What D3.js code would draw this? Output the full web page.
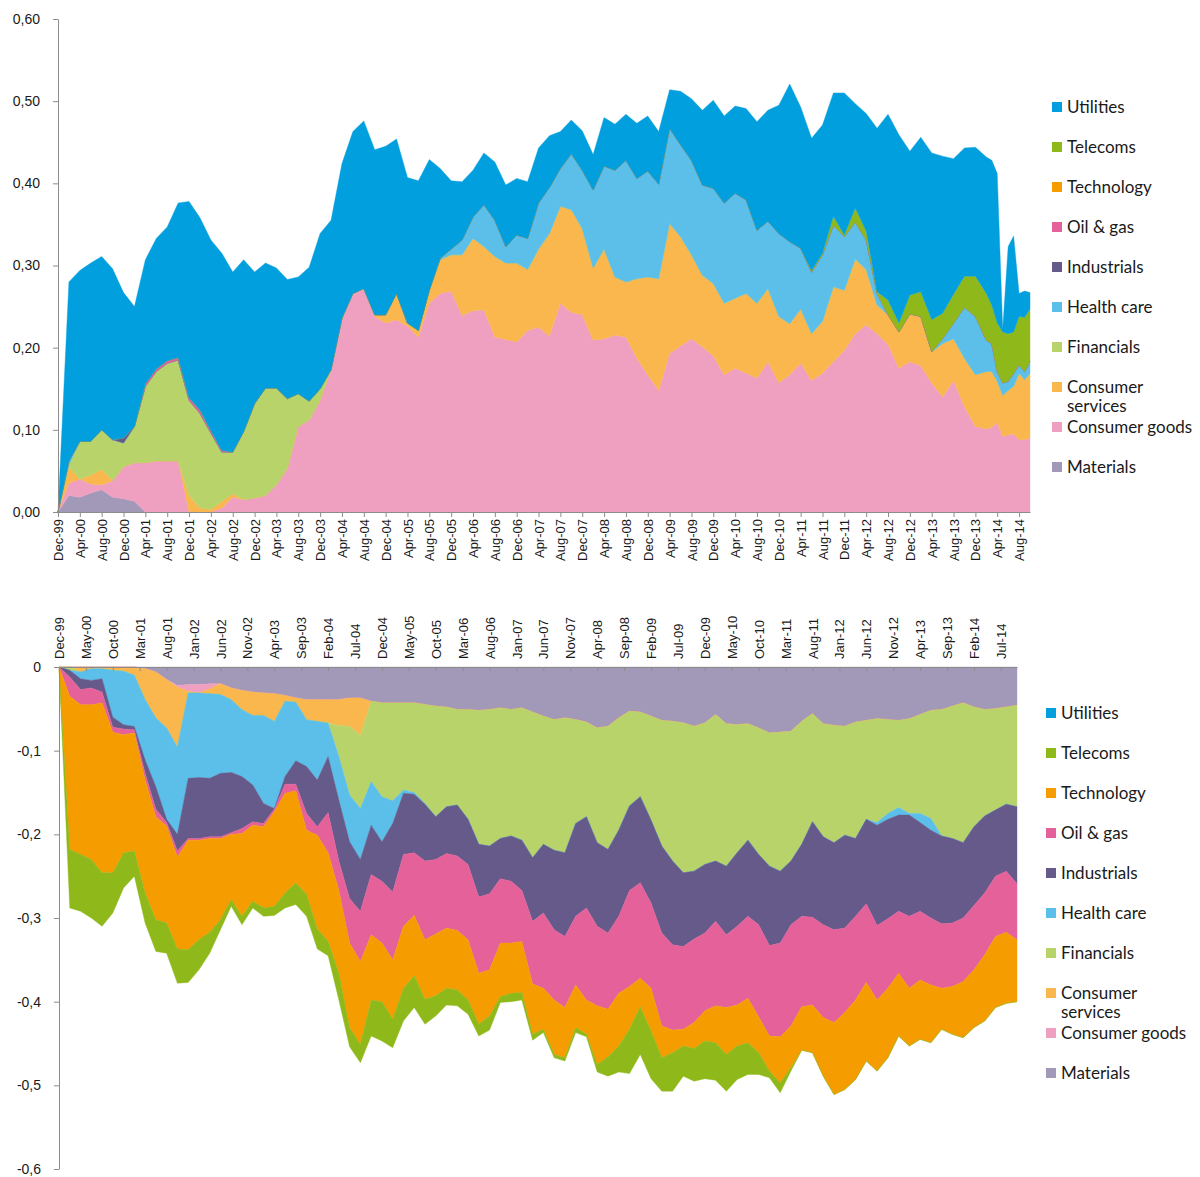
<!DOCTYPE html>
<html>
<head>
<meta charset="utf-8">
<script src="https://cdnjs.cloudflare.com/ajax/libs/d3/7.8.5/d3.min.js"></script>
<style>
  body { margin: 0; background: #fff; }
  svg { display: block; font-family: Lato, "Open Sans", sans-serif; }
</style>
</head>
<body>
<svg id="chart" width="1200" height="1177"></svg>
<script>
// month index counted from Dec-99
const topMonths = [0,2,4,6,8,10,12,14,16,18, 20,22,24,26,28,30,32,34,36,38,
  40,42,44,46,48,50,52,54,56,58, 60,62,64,66,68,70,72,74,76,78,
  80,82,84,86,88,90,92,94,96,98, 100,102,104,106,108,110,112,114,116,118,
  120,122,124,126,128,130,132,134,136,138, 140,142,144,146,148,150,152,154,156,158,
  160,162,164,166,168,170, 171,172,173,174,175,176,177,178];

const bottomMonths = [0,2,4,6,8,10,12,14,16,18, 20,22,24,26,28,30,32,34,36,38,
  40,42,44,46,48,50,52,54,56,58, 60,62,64,66,68,70,72,74,76,78,
  80,82,84,86,88,90,92,94,96,98, 100,102,104,106,108,110,112,114,116,118,
  120,122,124,126,128,130,132,134,136,138, 140,142,144,146,148,150,152,154,156,158,
  160,162,164,166,168,170,172,174,176,178];

const sectors = ["Utilities", "Telecoms", "Technology", "Oil & gas", "Industrials",
  "Health care", "Financials", "Consumer services", "Consumer goods", "Materials"];
const sectorColors = ["#029fdf", "#8fb91a", "#f59c00", "#e4619a", "#655a8a",
  "#5bbfea", "#b9d36b", "#f9b74e", "#efa0c0", "#a298b8"];

const yTicksTop = [0, 0.1, 0.2, 0.3, 0.4, 0.5, 0.6];
const yTicksBottom = [0, -0.1, -0.2, -0.3, -0.4, -0.5, -0.6];

// ---- upper panel (long side) ----
const longMaterials = [
  0, .020, .018, .023, .027, .018, .016, .013, 0, 0,
  0, 0, 0, 0, 0, 0, 0, 0, 0, 0,
  0, 0, 0, 0, 0, 0, 0, 0, 0, 0,
  0, 0, 0, 0, 0, 0, 0, 0, 0, 0,
  0, 0, 0, 0, 0, 0, 0, 0, 0, 0,
  0, 0, 0, 0, 0, 0, 0, 0, 0, 0,
  0, 0, 0, 0, 0, 0, 0, 0, 0, 0,
  0, 0, 0, 0, 0, 0, 0, 0, 0, 0,
  0, 0, 0, 0, 0, 0,
  0, 0, 0, 0, 0, 0, 0, 0];
const longConsumerGoods = [
  0, .015, .022, .011, .006, .020, .039, .047, .060, .062,
  .062, .062, 0, 0, 0, .005, .018, .015, .017, .020,
  .033, .053, .104, .112, .136, .173, .236, .266, .272, .238,
  .230, .234, .226, .213, .254, .266, .269, .239, .245, .246,
  .213, .210, .207, .221, .225, .214, .254, .243, .240, .209,
  .211, .215, .213, .187, .167, .148, .193, .202, .211, .201,
  .190, .167, .175, .169, .163, .183, .157, .167, .181, .160,
  .169, .183, .197, .217, .228, .217, .204, .175, .183, .178,
  .157, .140, .160, .128, .104, .101,
  .103, .109, .092, .094, .095, .088, .088, .090];
const longConsumerServices = [
  0, .020, 0, .011, .019, 0, 0, 0, 0, 0,
  0, 0, .020, .005, .003, .008, .004, 0, 0, 0,
  0, 0, 0, 0, 0, 0, 0, 0, 0, .002,
  .010, .032, .004, .008, .016, .041, .044, .074, .088, .077,
  .098, .093, .096, .074, .095, .125, .118, .125, .105, .088,
  .109, .071, .067, .097, .119, .136, .158, .133, .102, .087,
  .088, .087, .085, .097, .091, .089, .081, .062, .066, .057,
  .063, .091, .073, .091, .067, .035, .036, .044, .058, .060,
  .038, .065, .051, .059, .063, .070,
  .068, .050, .050, .054, .058, .081, .073, .079];
const longFinancials = [
  0, .002, .046, .041, .048, .050, .029, .044, .093, .109,
  .119, .123, .116, .115, .093, .060, .051, .083, .115, .131,
  .118, .085, .040, .023, .014, 0, 0, 0, 0, 0,
  0, 0, 0, 0, 0, 0, 0, 0, 0, 0,
  0, 0, 0, 0, 0, 0, 0, 0, 0, 0,
  0, 0, 0, 0, 0, 0, 0, 0, 0, 0,
  0, 0, 0, 0, 0, 0, 0, 0, 0, 0,
  0, 0, 0, 0, 0, 0, 0, 0, 0, 0,
  0, 0, 0, 0, 0, 0,
  0, 0, 0, 0, 0, 0, 0, 0];
const longHealthCare = [
  0, .005, 0, 0, 0, 0, 0, 0, 0, 0,
  0, 0, 0, 0, 0, 0, 0, 0, 0, 0,
  0, 0, 0, 0, 0, 0, 0, 0, 0, 0,
  0, 0, 0, 0, 0, .002, .007, .018, .026, .051,
  .044, .020, .034, .038, .056, .056, .046, .068, .071, .095,
  .101, .130, .148, .122, .129, .115, .116, .112, .115, .110,
  .116, .122, .128, .114, .089, .082, .101, .100, .074, .075,
  .081, .075, .065, .045, .036, .014, 0, 0, 0, 0,
  0, .006, .019, .062, .071, .038,
  .034, .012, .015, .011, .016, .010, .010, .014];
const longIndustrials = [
  0, 0, 0, 0, 0, 0, .006, 0, 0, 0,
  0, 0, 0, 0, 0, 0, 0, 0, 0, 0,
  0, 0, 0, 0, 0, 0, 0, 0, 0, 0,
  0, 0, 0, 0, 0, 0, 0, 0, 0, 0,
  0, 0, 0, 0, 0, 0, 0, 0, 0, 0,
  0, 0, 0, 0, 0, 0, 0, 0, 0, 0,
  0, 0, 0, 0, 0, 0, 0, 0, 0, 0,
  0, 0, 0, 0, 0, 0, 0, 0, 0, 0,
  0, 0, 0, 0, 0, 0,
  0, 0, 0, 0, 0, 0, 0, 0];
const longOilGas = [
  0, 0, 0, 0, 0, 0, 0, 0, .003, .003,
  .003, .003, .003, .004, .003, .002, 0, 0, 0, 0,
  0, 0, 0, 0, 0, 0, 0, 0, 0, 0,
  0, 0, 0, 0, 0, 0, 0, 0, 0, 0,
  0, 0, 0, 0, 0, 0, 0, 0, 0, 0,
  0, 0, 0, 0, 0, 0, 0, 0, 0, 0,
  0, 0, 0, 0, 0, 0, 0, 0, 0, 0,
  0, 0, 0, 0, 0, 0, 0, 0, 0, 0,
  0, 0, 0, 0, 0, 0,
  0, 0, 0, 0, 0, 0, 0, 0];
const longTelecoms = [
  0, 0, 0, 0, 0, 0, 0, 0, 0, 0,
  0, 0, 0, 0, 0, 0, 0, 0, 0, 0,
  0, 0, 0, 0, 0, 0, 0, 0, 0, 0,
  0, 0, 0, 0, 0, 0, 0, 0, 0, 0,
  0, 0, 0, 0, 0, 0, 0, 0, 0, 0,
  0, 0, 0, 0, 0, 0, 0, 0, 0, 0,
  0, 0, 0, 0, 0, 0, 0, 0, 0, .002,
  .002, .011, .002, .017, .011, .002, .018, .011, .023, .030,
  .039, .031, .035, .038, .049, .057,
  .047, .059, .062, .058, .050, .059, .066, .064];
const longUtilities = [
  0, .218, .208, .217, .211, .208, .177, .146, .151, .159,
  .163, .188, .239, .234, .232, .240, .219, .209, .160, .152,
  .146, .145, .142, .163, .189, .182, .188, .197, .204, .201,
  .205, .188, .177, .182, .159, .109, .083, .071, .057, .063,
  .071, .075, .069, .069, .067, .063, .045, .041, .048, .043,
  .059, .056, .056, .067, .067, .064, .047, .065, .075, .091,
  .107, .106, .106, .111, .132, .135, .156, .192, .172, .161,
  .156, .150, .173, .127, .143, .199, .226, .229, .175, .188,
  .203, .191, .165, .156, .157, .166,
  .176, .182, .003, .106, .117, .028, .032, .020];

// ---- lower panel (short side, magnitudes below zero) ----
const shortMaterials = [
  0, 0, 0, 0, 0, 0, 0, 0, .002, .006,
  .015, .022, .021, .021, .020, .020, .025, .028, .030, .031,
  .032, .034, .037, .039, .039, .039, .039, .037, .037, .041,
  .043, .043, .043, .043, .045, .047, .048, .051, .051, .052,
  .051, .049, .051, .049, .054, .059, .063, .061, .063, .066,
  .073, .071, .061, .053, .054, .059, .064, .065, .067, .071,
  .067, .057, .068, .069, .068, .073, .079, .078, .077, .065,
  .056, .068, .070, .071, .066, .064, .062, .063, .064, .062,
  .057, .052, .051, .047, .043, .048, .051, .050, .048, .046];
const shortConsumerGoods = [
  0, 0, 0, 0, 0, 0, 0, 0, 0, 0,
  0, .002, .008, .010, .006, 0, 0, 0, 0, 0,
  0, 0, 0, 0, 0, 0, 0, 0, 0, 0,
  0, 0, 0, 0, 0, 0, 0, 0, 0, 0,
  0, 0, 0, 0, 0, 0, 0, 0, 0, 0,
  0, 0, 0, 0, 0, 0, 0, 0, 0, 0,
  0, 0, 0, 0, 0, 0, 0, 0, 0, 0,
  0, 0, 0, 0, 0, 0, 0, 0, 0, 0,
  0, 0, 0, 0, 0, 0, 0, 0, 0, 0];
const shortConsumerServices = [
  0, 0, .006, .002, .002, .004, .005, .010, .037, .055,
  .058, .072, .002, 0, .006, .013, .014, .023, .028, .027,
  .033, .007, .005, .024, .026, .028, .031, .034, .045, 0,
  0, 0, 0, 0, 0, 0, 0, 0, 0, 0,
  0, 0, 0, 0, 0, 0, 0, 0, 0, 0,
  0, 0, 0, 0, 0, 0, 0, 0, 0, 0,
  0, 0, 0, 0, 0, 0, 0, 0, 0, 0,
  0, 0, 0, 0, 0, 0, 0, 0, 0, 0,
  0, 0, 0, 0, 0, 0, 0, 0, 0, 0];
const shortFinancials = [
  0, .004, 0, 0, 0, 0, 0, 0, 0, 0,
  0, 0, 0, 0, 0, 0, 0, 0, 0, 0,
  0, 0, 0, 0, 0, 0, .037, .082, .087, .096,
  .112, .117, .104, .107, .118, .132, .119, .114, .131, .160,
  .163, .156, .151, .158, .174, .153, .156, .161, .124, .113,
  .137, .147, .134, .113, .101, .124, .150, .167, .179, .173,
  .169, .175, .170, .153, .139, .151, .159, .166, .155, .147,
  .129, .135, .140, .130, .139, .118, .124, .112, .104, .113,
  .118, .129, .151, .158, .167, .143, .127, .121, .116, .121];
const shortHealthCare = [
  0, 0, .008, .014, .012, .056, .064, .061, .072, .082,
  .109, .104, .102, .101, .101, .094, .087, .080, .083, .105,
  .104, .090, .070, .056, .070, .040, .052, .056, .061, .052,
  .054, .027, .004, .002, .001, 0, 0, 0, 0, 0,
  0, 0, 0, 0, 0, 0, 0, 0, 0, 0,
  0, 0, 0, 0, 0, 0, 0, 0, 0, 0,
  0, 0, 0, 0, 0, 0, 0, 0, 0, 0,
  0, 0, 0, 0, 0, 0, .003, .007, .009, .002,
  .011, .014, 0, 0, 0, 0, 0, 0, 0, 0];
const shortIndustrials = [
  0, .008, .013, .009, .016, .012, .005, .004, .016, .027,
  .004, .020, .072, .073, .070, .076, .072, .062, .044, .024,
  .001, .009, .028, .056, .056, .067, .073, .068, .062, .059,
  .047, .082, .073, .070, .068, .051, .056, .061, .054, .063,
  .057, .048, .054, .060, .076, .082, .095, .100, .111, .109,
  .100, .100, .103, .101, .103, .099, .104, .100, .088, .081,
  .082, .072, .082, .088, .091, .084, .095, .086, .076, .086,
  .114, .105, .104, .111, .093, .101, .120, .119, .115, .121,
  .106, .105, .105, .101, .090, .094, .092, .079, .080, .092];
const shortOilGas = [
  0, .023, .018, .020, .013, .006, .007, .004, .008, .009,
  .004, .007, .002, .002, .002, .002, .002, .006, .004, .004,
  .003, .011, .008, .020, .010, .048, .035, .053, .060, .072,
  .074, .081, .086, .075, .094, .089, .089, .089, .090, .091,
  .091, .077, .074, .061, .075, .090, .084, .085, .082, .110,
  .095, .091, .092, .115, .114, .102, .111, .102, .099, .100,
  .093, .101, .087, .094, .098, .110, .108, .112, .121, .108,
  .105, .111, .111, .101, .100, .094, .089, .083, .074, .086,
  .082, .080, .077, .076, .076, .077, .074, .072, .073, .067];
const shortTechnology = [
  0, .183, .179, .185, .203, .168, .141, .141, .135, .123,
  .116, .110, .131, .119, .112, .097, .078, .099, .091, .097,
  .113, .119, .110, .077, .112, .106, .099, .101, .099, .078,
  .070, .071, .074, .072, .071, .074, .072, .071, .072, .061,
  .055, .064, .060, .061, .060, .049, .065, .060, .051, .041,
  .070, .057, .063, .051, .034, .051, .038, .027, .020, .031,
  .036, .044, .056, .049, .053, .043, .042, .055, .050, .052,
  .057, .070, .086, .092, .095, .094, .085, .083, .075, .069,
  .071, .069, .049, .057, .067, .069, .079, .085, .085, .074];
const shortTelecoms = [
  0, .070, .068, .070, .064, .048, .042, .030, .036, .038,
  .036, .041, .039, .036, .025, .012, .008, .010, .008, .010,
  .011, .018, .026, .026, .024, .017, .032, .023, .022, .043,
  .047, .034, .039, .038, .030, .024, .020, .019, .017, .014,
  .017, .007, .010, .009, .007, .004, .004, .004, .006, .003,
  .009, .023, .031, .053, .057, .057, .040, .046, .036, .039,
  .045, .045, .044, .040, .038, .026, .008, .012, .004, 0,
  0, 0, 0, 0, 0, 0, 0, 0, 0, 0,
  0, 0, 0, 0, 0, 0, 0, 0, 0, 0];

const vis = {

    svg : d3.select("#chart"),

    color : function(key) {
        return sectorColors[sectors.indexOf(key)];
    },

    monthLabel : function(m) {
        return d3.timeFormat("%b-%y")(new Date(1999, 11 + m, 1));
    },

    panel : function(cfg) {

        const svg = this.svg;
        const x = d3.scaleLinear().domain([0, 178]).range(cfg.xRange);
        const y = d3.scaleLinear().domain(cfg.yDomain).range(cfg.yRange);

        // stack bottom-up, from Materials to Utilities
        const keys = sectors.slice().reverse().filter(k => cfg.series[k]);

        const table = cfg.months.map((m, i) => {
            const row = { m : m };
            keys.forEach(k => row[k] = cfg.series[k][i]);
            return row;
        });

        const layers = d3.stack().keys(keys)(table);

        const area = d3.area()
            .x(d => x(d.data.m))
            .y0(d => y(cfg.sign * d[0]))
            .y1(d => y(cfg.sign * d[1]));

        svg.append("g")
          .selectAll("path")
          .data(layers)
          .join("path")
            .attr("d", area)
            .attr("fill", d => this.color(d.key))
            .attr("stroke", d => this.color(d.key))
            .attr("stroke-width", 0.4);

        // y axis
        const yAxis = svg.append("g")
            .attr("transform", `translate(${cfg.xRange[0]},0)`)
            .call(d3.axisLeft(y)
                .tickValues(cfg.yTicks)
                .tickSize(5)
                .tickSizeOuter(0)
                .tickPadding(cfg.yPad)
                .tickFormat(cfg.yFormat));

        // x axis
        const xAxisFn = cfg.sign > 0 ? d3.axisBottom(x).tickSize(5) : d3.axisTop(x).tickSize(-4);
        const xAxis = svg.append("g")
            .attr("transform", `translate(0,${y(0)})`)
            .call(xAxisFn
                .tickValues(cfg.xTicks)
                .tickSizeOuter(0)
                .tickFormat(m => this.monthLabel(m)));

        xAxis.selectAll("text")
            .attr("transform", "rotate(-90)")
            .attr("y", 0)
            .attr("dy", "0.35em")
            .attr("x", cfg.sign > 0 ? -7 : 8)
            .style("text-anchor", cfg.sign > 0 ? "end" : "start")
            .style("font-size", "13px");

        [xAxis, yAxis].forEach(ax => {
            ax.selectAll(".domain, line").attr("stroke", "#8c8c8c");
            ax.selectAll("text").attr("fill", "#1a1a1a");
        });
        yAxis.selectAll("text").style("font-size", "14px");

    },

    legend : function(x0, y0) {

        const g = this.svg.append("g")
            .attr("transform", `translate(${x0},${y0})`);

        const item = g.selectAll("g")
          .data(sectors)
          .join("g")
            .attr("transform", (d, i) => `translate(0,${i * 40})`);

        item.append("rect")
            .attr("x", 0)
            .attr("y", -5)
            .attr("width", 10)
            .attr("height", 10)
            .attr("fill", d => this.color(d));

        item.append("text")
            .attr("x", 15)
            .attr("y", 0)
            .attr("fill", "#1a1a1a")
            .style("font-size", "17px")
            .selectAll("tspan")
            .data(d => d === "Consumer services" ? ["Consumer", "services"] : [d])
            .join("tspan")
              .attr("x", 15)
              .attr("dy", (d, i) => i === 0 ? "0.35em" : "19px")
              .text(d => d);

    },

    ctrl : {

        init : function() {

            vis.panel({
                months : topMonths,
                series : {
                    "Materials" : longMaterials,
                    "Consumer goods" : longConsumerGoods,
                    "Consumer services" : longConsumerServices,
                    "Financials" : longFinancials,
                    "Health care" : longHealthCare,
                    "Industrials" : longIndustrials,
                    "Oil & gas" : longOilGas,
                    "Telecoms" : longTelecoms,
                    "Utilities" : longUtilities
                },
                sign : 1,
                xRange : [58, 1030],
                yDomain : [0, 0.6],
                yRange : [512, 19],
                yTicks : yTicksTop,
                yPad : 13,
                yFormat : d => d.toFixed(2).replace(".", ","),
                xTicks : d3.range(0, 177, 4)
            });

            vis.panel({
                months : bottomMonths,
                series : {
                    "Materials" : shortMaterials,
                    "Consumer goods" : shortConsumerGoods,
                    "Consumer services" : shortConsumerServices,
                    "Financials" : shortFinancials,
                    "Health care" : shortHealthCare,
                    "Industrials" : shortIndustrials,
                    "Oil & gas" : shortOilGas,
                    "Technology" : shortTechnology,
                    "Telecoms" : shortTelecoms
                },
                sign : -1,
                xRange : [59, 1017],
                yDomain : [-0.6, 0],
                yRange : [1169, 667],
                yTicks : yTicksBottom,
                yPad : 13,
                yFormat : d => d === 0 ? "0" : "-" + Math.abs(d).toFixed(1).replace(".", ","),
                xTicks : d3.range(0, 176, 5)
            });

            vis.legend(1052, 107);
            vis.legend(1046, 713);
        }

    }

};

vis.ctrl.init();
</script>
</body>
</html>
